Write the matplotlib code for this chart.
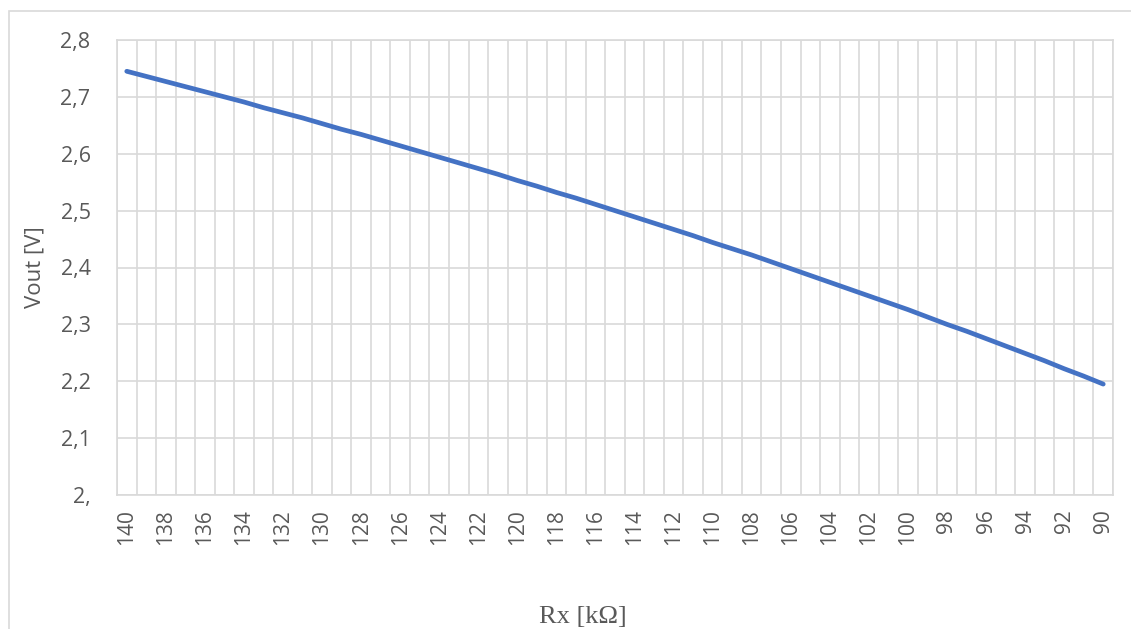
import matplotlib
matplotlib.use("Agg")
import matplotlib.pyplot as plt
from matplotlib.patches import Rectangle

# Rx in kOhm (categories, descending) and measured Vout in V
rx = list(range(140, 89, -1))
vout = [2.745, 2.736, 2.727, 2.718, 2.709, 2.700, 2.691, 2.681, 2.672, 2.663,
        2.653, 2.643, 2.634, 2.624, 2.614, 2.604, 2.594, 2.584, 2.574, 2.564,
        2.553, 2.543, 2.532, 2.522, 2.511, 2.500, 2.489, 2.478, 2.467, 2.456,
        2.444, 2.433, 2.422, 2.410, 2.398, 2.386, 2.374, 2.362, 2.350, 2.338,
        2.326, 2.313, 2.300, 2.288, 2.275, 2.262, 2.249, 2.236, 2.222, 2.209,
        2.195]
y_ticks = [2.0, 2.1, 2.2, 2.3, 2.4, 2.5, 2.6, 2.7, 2.8]
y_labels = ["2,", "2,1", "2,2", "2,3", "2,4", "2,5", "2,6", "2,7", "2,8"]

grid_c = "#D9D9D9"
text_c = "#595959"
sans = ["Open Sans", "DejaVu Sans"]

fig = plt.figure(figsize=(11.31, 6.29), dpi=100)
ax = fig.add_axes([117 / 1131, 134 / 629, 996 / 1131, 455 / 629])

# chart frame (top and left edges visible, rest is cropped)
fig.patches.append(Rectangle((9 / 1131, -0.1), 1.2, (629 - 11) / 629 + 0.1,
                             transform=fig.transFigure, fill=False,
                             edgecolor=grid_c, linewidth=1.2, zorder=0))

x = list(range(len(rx)))
ax.plot(x, vout, color="#4472C4", linewidth=3.4, solid_capstyle="round", zorder=3)

ax.set_xlim(-0.5, len(rx) - 0.5)
ax.set_ylim(2.0, 2.8)
ax.set_yticks(y_ticks)
ax.set_yticklabels(y_labels, fontsize=15.5, color=text_c, family=sans)
ax.set_xticks(x[::2])
ax.set_xticklabels([str(r) for r in rx[::2]], rotation=90, fontsize=15,
                   color=text_c, family=sans)
ax.set_xticks([i - 0.5 for i in range(len(rx) + 1)], minor=True)
ax.tick_params(axis="both", which="both", length=0)
ax.tick_params(axis="y", pad=19)
ax.tick_params(axis="x", pad=10)

ax.grid(True, which="minor", axis="x", color=grid_c, linewidth=1.2)
ax.grid(True, which="major", axis="y", color=grid_c, linewidth=1.2)
ax.set_axisbelow(True)
for s in ax.spines.values():
    s.set_color(grid_c)
    s.set_linewidth(1.2)

fig.text(35 / 1131, 1 - 267 / 629, "Vout [V]", rotation=90, ha="center",
         va="center", fontsize=16, color=text_c, family=sans)
fig.text(583 / 1131, 1 - 617 / 629, "Rx [k\u03a9]", ha="center", va="center",
         fontsize=19, color=text_c, family=["Liberation Serif", "DejaVu Serif"])

fig.savefig("out.png", dpi=100)
